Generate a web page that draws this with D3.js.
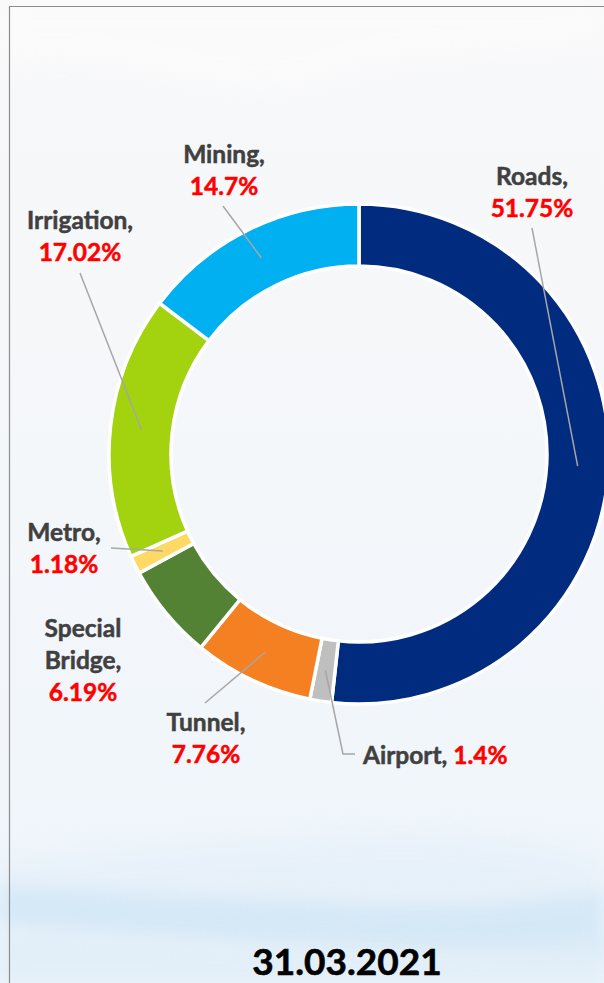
<!DOCTYPE html>
<html>
<head>
<meta charset="utf-8">
<script src="https://cdn.jsdelivr.net/npm/d3@7"></script>
<style>
html,body{margin:0;padding:0;background:#f6f8fa;}
svg{display:block;}
</style>
</head>
<body>
<svg id="chart" width="604" height="983"></svg>
<script>
// ---- data ----
const categories = ["Roads", "Airport", "Tunnel", "Special Bridge", "Metro", "Irrigation", "Mining"];
const values = [51.75, 1.4, 7.76, 6.19, 1.18, 17.02, 14.7];
const labelLines = [["Roads,"], ["Airport,"], ["Tunnel,"], ["Special", "Bridge,"], ["Metro,"], ["Irrigation,"], ["Mining,"]];
const pctLabels = ["51.75%", "1.4%", "7.76%", "6.19%", "1.18%", "17.02%", "14.7%"];
const dateLabel = "31.03.2021";

// ---- styles / layout ----
const colors = ["#002B7F", "#BFBFBF", "#F58022", "#548235", "#FFD966", "#A3D20F", "#00B0F0"];
const cx = 359, cy = 454, rOuter = 250, rInner = 188;
const labelLayout = [
  {x: 532, y: 185, mode: "stack", lead: [[532, 228]]},
  {x: 363, y: 764, mode: "inline", lead: [[343, 754], [355, 754]]},
  {x: 206, y: 731, mode: "stack", lead: [[205, 703]]},
  {x: 83, y: 637, mode: "stack", lead: null},
  {x: 64, y: 541, mode: "stack", lead: [[111, 548]]},
  {x: 80, y: 229, mode: "stack", lead: [[80, 273]]},
  {x: 224, y: 163, mode: "stack", lead: [[223, 206]]}
];
const lineH = 32;

const svg = d3.select("#chart");
const defs = svg.append("defs");

// background
const bg = defs.append("linearGradient").attr("id", "bg").attr("x1", 0).attr("y1", 0).attr("x2", 0).attr("y2", 1);
bg.append("stop").attr("offset", "0").attr("stop-color", "#f8f8f9");
bg.append("stop").attr("offset", "0.5").attr("stop-color", "#f4f7fa");
bg.append("stop").attr("offset", "1").attr("stop-color", "#eef5fb");
svg.append("rect").attr("width", 604).attr("height", 983).attr("fill", "url(#bg)");

const blur = defs.append("filter").attr("id", "blur").attr("x", "-20%").attr("y", "-50%").attr("width", "140%").attr("height", "200%");
blur.append("feGaussianBlur").attr("stdDeviation", 12);
const blur2 = defs.append("filter").attr("id", "blur2").attr("x", "-20%").attr("y", "-50%").attr("width", "140%").attr("height", "200%");
blur2.append("feGaussianBlur").attr("stdDeviation", 9);

const bgG = svg.append("g");
bgG.append("path")
  .attr("d", "M0,70 C120,40 220,120 330,80 C430,45 520,60 604,40 L604,0 L0,0 Z")
  .attr("fill", "#ffffff").attr("opacity", 0.4).attr("filter", "url(#blur)");
bgG.append("path")
  .attr("d", "M0,860 C150,850 300,830 450,835 C520,838 570,850 604,860 L604,983 L0,983 Z")
  .attr("fill", "#e6f0f9").attr("opacity", 0.8).attr("filter", "url(#blur)");
bgG.append("path")
  .attr("d", "M0,885 C120,895 250,900 380,905 C480,908 560,900 604,890 L604,960 C520,955 420,950 320,945 C200,940 100,930 0,925 Z")
  .attr("fill", "#cde5f6").attr("opacity", 0.7).attr("filter", "url(#blur2)");
bgG.append("path")
  .attr("d", "M0,930 C150,945 300,955 450,950 C520,948 570,940 604,935 L604,983 L0,983 Z")
  .attr("fill", "#e0eef8").attr("opacity", 0.7).attr("filter", "url(#blur2)");

// frame lines
svg.append("line").attr("x1", 9).attr("x2", 604).attr("y1", 6.5).attr("y2", 6.5).attr("stroke", "#8c8c8c").attr("stroke-width", 1.2);
svg.append("line").attr("x1", 9.5).attr("x2", 9.5).attr("y1", 6).attr("y2", 983).attr("stroke", "#8c8c8c").attr("stroke-width", 1.2);

// donut
const pie = d3.pie().sort(null).value(d => d)(values);
const arc = d3.arc().innerRadius(rInner).outerRadius(rOuter);
const midArc = d3.arc().innerRadius((rInner + rOuter) / 2).outerRadius((rInner + rOuter) / 2);
const g = svg.append("g").attr("transform", `translate(${cx},${cy})`);
g.selectAll("path.slice").data(pie).join("path")
  .attr("class", "slice")
  .attr("d", arc)
  .attr("fill", (d, i) => colors[i])
  .attr("stroke", "#ffffff")
  .attr("stroke-width", 3.5)
  .attr("stroke-linejoin", "miter");

// leader lines
pie.forEach((d, i) => {
  const L = labelLayout[i];
  if (!L.lead) return;
  const c = midArc.centroid(d);
  const pts = [[cx + c[0], cy + c[1]]].concat(L.lead);
  svg.append("path")
    .attr("d", d3.line()(pts))
    .attr("fill", "none")
    .attr("stroke", "#a6a6a6")
    .attr("stroke-width", 1.5);
});

// labels
const font = "Lato, 'Open Sans', sans-serif";
labelLayout.forEach((L, i) => {
  const t = svg.append("text")
    .attr("font-family", font)
    .attr("font-weight", 700)
    .attr("font-size", 24.5)
    .attr("stroke-width", 0.5)
    .attr("paint-order", "stroke");
  if (L.mode === "stack") {
    t.attr("text-anchor", "middle");
    const lines = labelLines[i];
    lines.forEach((s, k) => {
      t.append("tspan").attr("x", L.x).attr("y", L.y + k * lineH).attr("fill", "#404040").attr("stroke", "#404040").text(s);
    });
    t.append("tspan").attr("x", L.x).attr("y", L.y + lines.length * lineH).attr("fill", "#ff0000").attr("stroke", "#ff0000").text(pctLabels[i]);
  } else {
    t.attr("text-anchor", "start").attr("x", L.x).attr("y", L.y);
    t.append("tspan").attr("fill", "#404040").attr("stroke", "#404040").text(labelLines[i].join(" ") + " ");
    t.append("tspan").attr("fill", "#ff0000").attr("stroke", "#ff0000").text(pctLabels[i]);
  }
});

// date
svg.append("text")
  .attr("x", 347).attr("y", 975)
  .attr("text-anchor", "middle")
  .attr("font-family", font)
  .attr("font-weight", 700)
  .attr("font-size", 37)
  .attr("fill", "#000000")
  .attr("stroke", "#000000")
  .attr("stroke-width", 0.6)
  .text(dateLabel);
</script>
</body>
</html>
